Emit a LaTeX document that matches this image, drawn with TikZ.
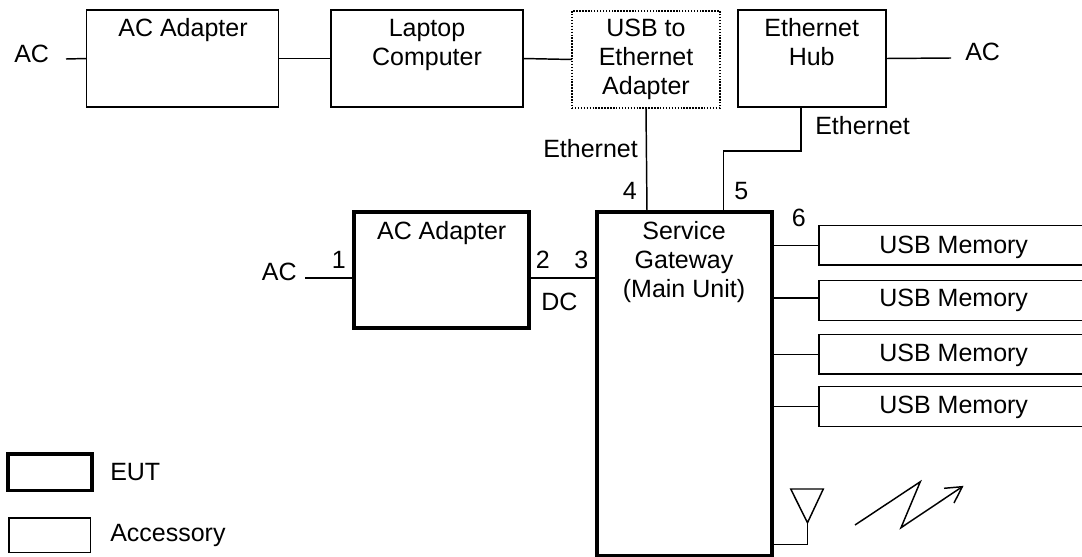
\documentclass[tikz,border=0pt]{standalone}
\usepackage{fontspec}
\setmainfont{Liberation Sans}
\begin{document}
\begin{tikzpicture}[
      x=0.75pt, y=-0.75pt,
      kiste/.style={draw=black, line width=1.1pt, anchor=north west, inner sep=0pt, outer sep=0pt},
      eut/.style={kiste, line width=2.5pt},
      zubehoer/.style={kiste, dash pattern=on 1.1pt off 1.1pt},
      leitung/.style={black, line width=1.1pt},
      titel/.style={font=\fontsize{18.75}{21.75}\selectfont, align=center, inner sep=0pt, anchor=base},
      beschriftung/.style={font=\fontsize{18.75}{21.75}\selectfont, inner sep=0pt, anchor=base west}
    ]
    \useasboundingbox (0,0) rectangle (1082,557);
    \def\TW{144pt}   % width of the upper boxes
    \def\TH{72.75pt} % height of the upper boxes
    \def\MW{200pt}   % width of a memory box

    % ---------- upper row ----------
    \node[kiste, minimum width=\TW, minimum height=\TH] (topadapter) at (86.5,10) {};
    \node[kiste, minimum width=\TW, minimum height=\TH] (laptop) at (331,10) {};
    \node[zubehoer, minimum width=111pt, minimum height=\TH] (usbadapter) at (572,11) {};
    \node[kiste, minimum width=111pt, minimum height=\TH] (hub) at (738,10) {};
    % a node with several lines sits on the baseline of its last line
    \node[titel] (topadaptertext) at (183,36) {AC Adapter};
    \node[titel] (laptoptext) at (427,65) {Laptop\\Computer};
    \node[titel] (usbadaptertext) at (646,94) {USB to\\Ethernet\\Adapter};
    \node[titel] (hubtext) at (811.7,65) {Ethernet\\Hub};

    % ---------- lower row ----------
    \node[eut, minimum width=131.25pt, minimum height=87pt] (eutadapter) at (354,212) {};
    \node[eut, minimum width=131.25pt, minimum height=258pt] (gateway) at (597,212) {};
    \node[titel] (eutadaptertext) at (441.7,239) {AC Adapter};
    \node[titel] (gatewaytext) at (684,297) {Service\\Gateway\\(Main Unit)};

    % USB memories, the right side is cut off by the page
    \node[kiste, minimum width=\MW, minimum height=29.5pt] (memone) at (819,225.7) {};
    \node[kiste, minimum width=\MW, minimum height=30pt] (memtwo) at (819,280.7) {};
    \node[kiste, minimum width=\MW, minimum height=29.5pt] (memthree) at (819,334.7) {};
    \node[kiste, minimum width=\MW, minimum height=30pt] (memfour) at (819,386.7) {};
    \foreach \n/\y in {memonetext/253, memtwotext/306, memthreetext/361, memfourtext/413}{
      \node[titel] (\n) at (953.7,\y) {USB Memory};
    }

    % ---------- connectors ----------
    \coordinate (acleft) at (66,59);
    \coordinate (acright) at (951,58);
    \coordinate (aclow) at (305,278);
    \coordinate (dcport) at (529,278);
    \coordinate (portfour) at (647,212);
    \coordinate (hubout) at (801,107);
    \coordinate (hubbend) at (723.5,151);
    \coordinate (portfive) at (723.5,212);
    \coordinate (memtwoin) at (819,298);
    \draw[leitung] (acleft) -- (topadapter.west);
    \draw[leitung] (topadapter.east) -- (laptop.west);
    \draw[leitung] (laptop.east) -- (usbadapter.west);
    \draw[leitung] (hub.east) -- (acright);
    \draw[leitung] (aclow) -- (eutadapter.west |- aclow);
    \draw[leitung] (dcport) -- (gateway.west |- dcport);
    \draw[leitung] (usbadapter.south) -- (portfour);
    \draw[leitung] (hubout) |- (hubbend) -- (portfive);
    \draw[leitung] (gateway.east |- memone.west) -- (memone.west);
    \draw[leitung] (gateway.east |- memtwoin) -- (memtwoin);
    \draw[leitung] (gateway.east |- memthree.west) -- (memthree.west);
    \draw[leitung] (gateway.east |- memfour.west) -- (memfour.west);

    % ---------- antenna and radio arrow ----------
    \draw[leitung] (772,544.3) -- (807.5,544.3) -- (807.5,522.7);
    \draw[leitung] (790.7,489) -- (823.3,489) -- (807.5,522.7) -- cycle;
    \draw[leitung] (855,525) -- (920.3,481.7) -- (901,527.7) -- (962.3,486.7);
    \draw[leitung] (944,488.3) -- (962.3,486.7) -- (954,503);

    % ---------- labels ----------
    \node[beschriftung] (aclefttext) at (14,62) {AC};
    \node[beschriftung] (acrighttext) at (965,60.7) {AC};
    \node[beschriftung] (aclowtext) at (261.7,280.7) {AC};
    \node[beschriftung] (dctext) at (541,310.7) {DC};
    \node[beschriftung] (ethleft) at (543,157) {Ethernet};
    \node[beschriftung] (ethright) at (815,134.3) {Ethernet};
    \foreach \n/\x/\y/\t in {one/331.7/268.7/1, two/535.7/268.7/2, three/574/268.7/3,
                             four/622.7/199.3/4, five/734/199.3/5, six/791.7/226/6}{
      \node[beschriftung] (port\n) at (\x,\y) {\t};
    }

    % ---------- legend ----------
    \node[eut, minimum width=63pt, minimum height=27.5pt] (legendeut) at (8,454) {};
    \node[kiste, minimum width=61.25pt, minimum height=26pt] (legendacc) at (9,518) {};
    \node[beschriftung] (legendeuttext) at (110,480) {EUT};
    \node[beschriftung] (legendacctext) at (110,541.7) {Accessory};
  \end{tikzpicture}
\end{document}
